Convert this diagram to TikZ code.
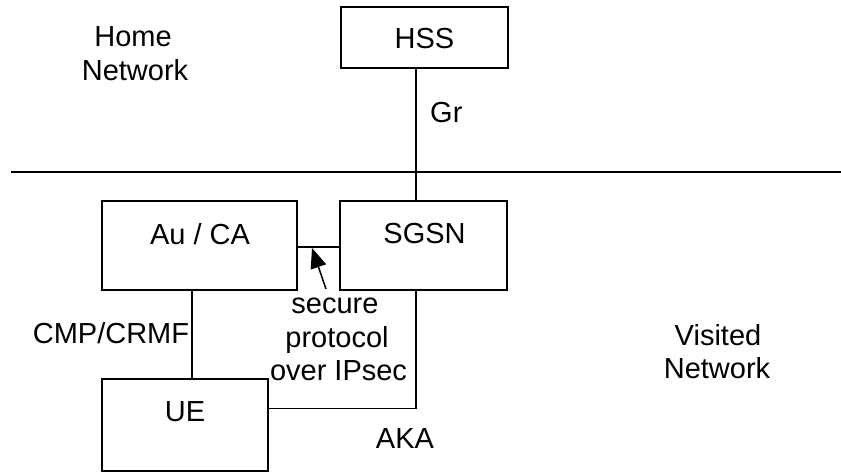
\documentclass[tikz,border=0pt]{standalone}
\usepackage{fontspec}
\setmainfont{Liberation Sans}
\usetikzlibrary{arrows.meta,calc}
\begin{document}
\begin{tikzpicture}[x=1pt,y=-1pt,
  every node/.style={font=\fontsize{29}{33}\selectfont},
  box/.style={draw,line width=1.5pt,rectangle,inner sep=0pt},
  lbl/.style={anchor=base,inner sep=0pt},
  conn/.style={line width=1.5pt}]
\useasboundingbox (0,0) rectangle (841,472);
% boxes
\node[box,minimum width=167pt,minimum height=61pt] (hss) at (424.5,37.5) {};
\node[box,minimum width=167pt,minimum height=89pt] (sgsn) at (423.5,245.5) {};
\node[box,minimum width=195pt,minimum height=89pt] (auca) at (199.5,245.5) {};
\node[box,minimum width=166pt,minimum height=92pt] (ue) at (185,425) {};
% box texts
\node[lbl] (thss) at (424.5,48) {HSS};
\node[lbl] (tsgsn) at (424.5,243) {SGSN};
\node[lbl] (tauca) at (200,244) {Au / CA};
\node[lbl] (tue) at (185,421) {UE};
% free texts
\node[lbl] (home1) at (133,46) {Home};
\node[lbl] (home2) at (135,80) {Network};
\node[lbl] (vis1) at (718,345) {Visited};
\node[lbl] (vis2) at (717,378) {Network};
\node[lbl,anchor=base west] (gr) at (430,122) {Gr};
\node[lbl] (cmp) at (111,343) {CMP/CRMF};
\node[lbl] (sec1) at (335,313) {secure};
\node[lbl] (sec2) at (337,347) {protocol};
\node[lbl] (sec3) at (338.5,380) {over IPsec};
\node[lbl] (aka) at (405,448) {AKA};
% coordinates
\coordinate (gx) at (416,0);
\coordinate (ax) at (192,0);
\coordinate (hy) at (0,247);
\coordinate (uein) at ($(ue.north east)+(0,30)$);
\coordinate (sepl) at (11,172);
\coordinate (sepr) at (841,172);
\coordinate (arrtail) at (326,289);
\coordinate (arrtip) at (312,248);
% connectors
\draw[conn] (sepl) -- (sepr);
\draw[conn] (hss.south -| gx) -- (sgsn.north -| gx);
\draw[conn] (sgsn.south -| gx) |- (uein);
\draw[conn] (auca.south -| ax) -- (ue.north -| ax);
\draw[conn] (auca.east |- hy) -- (sgsn.west |- hy);
\draw[conn,-{Triangle[length=20pt,width=16pt]}] (arrtail) -- (arrtip);
\end{tikzpicture}
\end{document}
